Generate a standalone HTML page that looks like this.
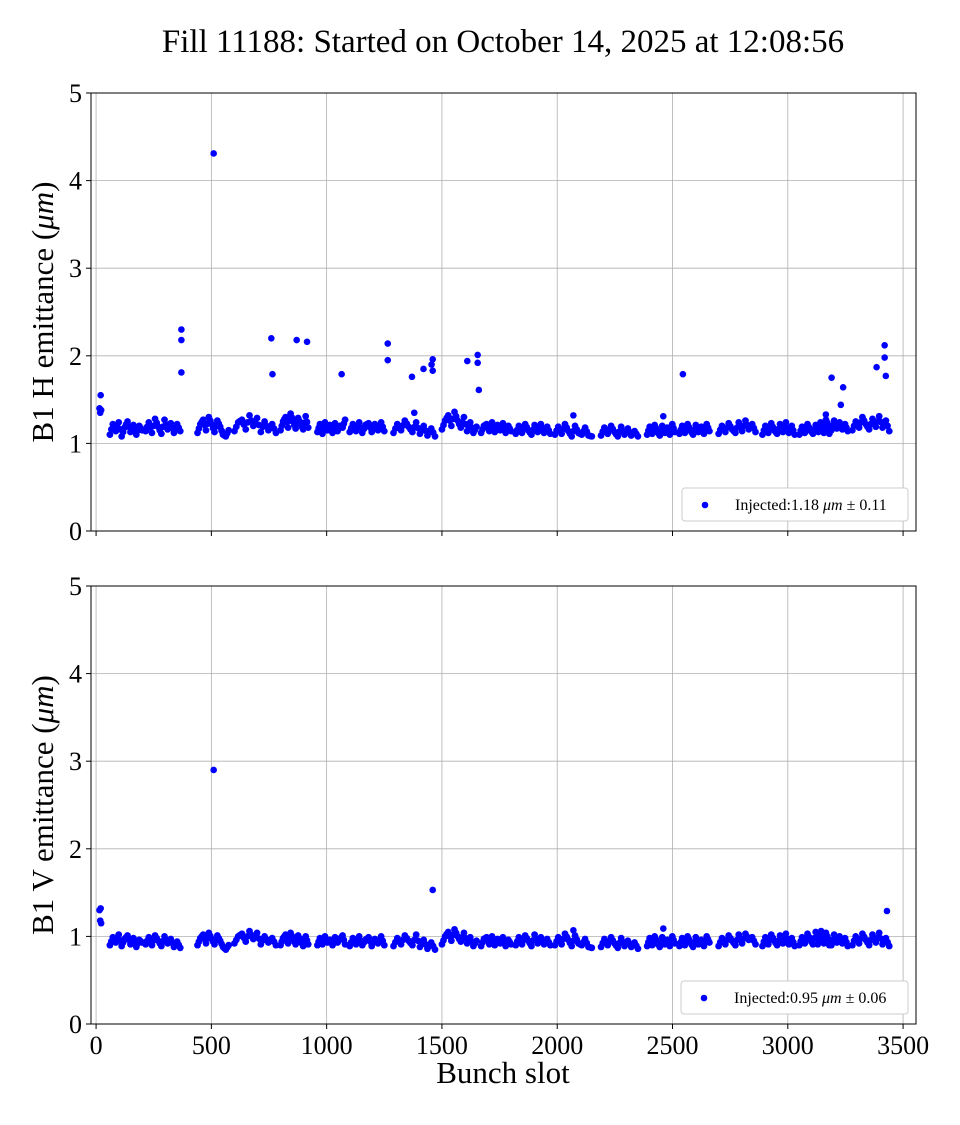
<!DOCTYPE html>
<html><head><meta charset="utf-8"><style>
body{margin:0;background:#fff;}
svg text{font-family:"Liberation Serif",serif;fill:#000;}
</style></head><body>
<svg id="chart" width="960" height="1120" xmlns="http://www.w3.org/2000/svg">
<rect width="960" height="1120" fill="#fff"/>
<text x="503" y="52" font-size="33" text-anchor="middle">Fill 11188: Started on October 14, 2025 at 12:08:56</text>
</svg>
<script>
const trainStarts=[60,215,440,600,800,960,1100,1290,1500,1670,1820,1990,2190,2390,2530,2700,2890,3050,3130,3280];
const trainEnds=[200,365,575,780,920,1080,1250,1470,1650,1800,1970,2150,2350,2510,2660,2860,3030,3180,3260,3440];
const hTrainValues=[
[1.1,1.22,1.14,1.24,1.08,1.18,1.25,1.13,1.21,1.1,1.2,1.15],
[1.14,1.24,1.12,1.28,1.19,1.11,1.27,1.16,1.23,1.12,1.22,1.14],
[1.12,1.22,1.27,1.15,1.3,1.22,1.13,1.26,1.19,1.1,1.08,1.15],
[1.14,1.24,1.27,1.16,1.32,1.2,1.29,1.13,1.25,1.15,1.22,1.12],
[1.15,1.25,1.3,1.18,1.34,1.25,1.17,1.29,1.22,1.16,1.31,1.18],
[1.13,1.22,1.11,1.24,1.15,1.21,1.12,1.23,1.14,1.2,1.18,1.27],
[1.13,1.22,1.14,1.24,1.12,1.21,1.23,1.13,1.22,1.15,1.24,1.14],
[1.12,1.22,1.15,1.26,1.19,1.13,1.24,1.11,1.2,1.09,1.17,1.08],
[1.16,1.26,1.32,1.2,1.36,1.26,1.18,1.3,1.14,1.24,1.12,1.19],
[1.12,1.2,1.22,1.14,1.24,1.13,1.21,1.15,1.23,1.12,1.2,1.14],
[1.11,1.2,1.12,1.22,1.15,1.1,1.21,1.13,1.22,1.12,1.19,1.11],
[1.1,1.19,1.11,1.22,1.14,1.08,1.2,1.12,1.1,1.18,1.09,1.08],
[1.09,1.18,1.11,1.2,1.13,1.08,1.19,1.1,1.17,1.09,1.14,1.08],
[1.1,1.19,1.11,1.21,1.14,1.09,1.2,1.12,1.18,1.1,1.22,1.13],
[1.11,1.2,1.12,1.22,1.15,1.1,1.21,1.13,1.19,1.11,1.22,1.14],
[1.11,1.2,1.13,1.23,1.16,1.12,1.24,1.14,1.26,1.16,1.22,1.13],
[1.1,1.2,1.12,1.23,1.15,1.11,1.22,1.13,1.24,1.12,1.2,1.1],
[1.1,1.19,1.12,1.22,1.15,1.11,1.21,1.13,1.23,1.12,1.2,1.11],
[1.14,1.24,1.17,1.27,1.2,1.15,1.26,1.17,1.24,1.16,1.22,1.14],
[1.15,1.25,1.18,1.3,1.22,1.16,1.28,1.19,1.31,1.18,1.26,1.14]];
const vTrainValues=[
[0.9,0.99,0.93,1.02,0.89,0.97,1.01,0.91,0.98,0.88,0.96,0.93],
[0.91,0.99,0.9,1.01,0.95,0.89,1.0,0.92,0.97,0.88,0.94,0.87],
[0.9,0.98,1.02,0.92,1.04,0.97,0.91,1.01,0.95,0.88,0.85,0.9],
[0.92,1.0,1.03,0.94,1.06,0.97,1.04,0.91,1.0,0.93,0.98,0.9],
[0.9,0.98,1.02,0.92,1.04,0.97,0.91,1.01,0.95,0.89,1.0,0.91],
[0.9,0.98,0.91,1.0,0.93,0.96,0.9,0.99,0.93,0.97,1.01,0.91],
[0.89,0.98,0.91,1.0,0.9,0.96,0.99,0.89,0.97,0.92,1.0,0.9],
[0.89,0.98,0.91,1.01,0.95,0.9,1.02,0.88,0.96,0.86,0.93,0.85],
[0.91,1.0,1.05,0.95,1.08,1.0,0.94,1.04,0.92,0.99,0.89,0.95],
[0.89,0.97,0.99,0.91,1.0,0.9,0.97,0.92,0.99,0.89,0.96,0.91],
[0.9,0.99,0.91,1.01,0.95,0.89,1.02,0.92,0.99,0.91,0.97,0.9],
[0.9,0.99,0.91,1.03,0.96,0.89,1.01,0.92,0.9,0.97,0.88,0.87],
[0.88,0.97,0.9,0.99,0.92,0.87,0.98,0.89,0.95,0.88,0.93,0.86],
[0.89,0.98,0.9,1.0,0.93,0.88,0.99,0.91,0.96,0.89,1.0,0.92],
[0.89,0.98,0.9,1.0,0.93,0.88,0.99,0.91,0.96,0.89,1.0,0.93],
[0.89,0.98,0.91,1.01,0.95,0.9,1.02,0.92,1.03,0.96,0.99,0.91],
[0.89,0.99,0.91,1.02,0.95,0.9,1.01,0.92,1.03,0.91,0.98,0.89],
[0.9,0.99,0.92,1.03,0.96,0.91,1.05,0.93,1.06,0.92,0.99,0.9],
[0.91,1.0,0.93,1.04,0.96,0.9,1.02,0.93,1.0,0.92,0.98,0.89],
[0.9,1.0,0.92,1.03,0.96,0.9,1.02,0.93,1.04,0.91,0.98,0.89]];
const hOutlierSlots=[20,15,18,22,370,370,370,510,760,765,870,915,1065,1265,1265,1370,1380,1420,1455,1460,1460,1610,1655,1655,1660,2545,3165,3190,3230,3240,3385,3420,3420,3425,2070,2460];
const hOutlierValues=[1.55,1.4,1.35,1.38,2.3,2.18,1.81,4.31,2.2,1.79,2.18,2.16,1.79,2.14,1.95,1.76,1.35,1.85,1.9,1.96,1.83,1.94,2.01,1.92,1.61,1.79,1.33,1.75,1.44,1.64,1.87,2.12,1.98,1.77,1.32,1.31];
const vOutlierSlots=[15,20,18,22,510,1460,3430,2460,2070];
const vOutlierValues=[1.3,1.32,1.18,1.15,2.9,1.53,1.29,1.09,1.07];
const xTicks=[0,500,1000,1500,2000,2500,3000,3500];
const yTicks=[0,1,2,3,4,5];

const NS="http://www.w3.org/2000/svg";
const svg=document.getElementById('chart');
const L=91,R=916,xMin=-22,xMax=3556;
const xs=v=>L+(v-xMin)/(xMax-xMin)*(R-L);
function mk(t,a,p){const e=document.createElementNS(NS,t);for(const k in a)e.setAttribute(k,a[k]);(p||svg).appendChild(e);return e;}
function panel(top,bottom,name,label,tv,os,ov,legend,showX){
  const ys=v=>bottom-v/5*(bottom-top);
  const g=mk('g',{});
  
  
  xTicks.forEach(t=>{const x=xs(t);
    const gl=mk('line',{x1:x,x2:x,y1:top,y2:bottom,stroke:'#b0b0b0','stroke-width':0.8},g);
    
    mk('line',{x1:x,x2:x,y1:bottom,y2:bottom+5,stroke:'#000','stroke-width':1},g);
    if(showX){const tx=mk('text',{x:x,y:bottom+30,'font-size':26,'text-anchor':'middle'},g);tx.textContent=t;
      }
  });
  yTicks.forEach(t=>{const y=ys(t);
    const gl=mk('line',{x1:L,x2:R,y1:y,y2:y,stroke:'#b0b0b0','stroke-width':0.8},g);
    
    mk('line',{x1:L-5,x2:L,y1:y,y2:y,stroke:'#000','stroke-width':1},g);
    const tx=mk('text',{x:L-9,y:y+9,'font-size':26,'text-anchor':'end'},g);tx.textContent=t;
    
  });
  const pts=mk('g',{fill:'#0000ff'},g);
  
  tv.forEach((vals,i)=>{const s=trainStarts[i],e=trainEnds[i];
    vals.forEach((v,j)=>{const slot=s+(e-s)*j/(vals.length-1);
      const c=mk('circle',{cx:xs(slot),cy:ys(v),r:3.4},pts);
      });
    vals.forEach((v,j)=>{if(j==vals.length-1)return;const slot=s+(e-s)*(j+0.5)/(vals.length-1);
      const v2=(v+vals[j+1])/2;
      const c=mk('circle',{cx:xs(slot),cy:ys(v2),r:3.4},pts);
      });
  });
  os.forEach((s,i)=>{const c=mk('circle',{cx:xs(s),cy:ys(ov[i]),r:3.3},pts);
    });
  const fr=mk('rect',{x:L,y:top,width:R-L,height:bottom-top,fill:'none',stroke:'#000','stroke-width':1},g);
  
  const yl=mk('text',{x:0,y:0,'font-size':31,'text-anchor':'middle',transform:`translate(53,${(top+bottom)/2}) rotate(-90)`},g);
  yl.innerHTML=label+' emittance (<tspan font-style="italic">μm</tspan>)';
  
  const lg=mk('g',{},g);
  
  mk('rect',{x:legend[0],y:bottom-43,width:legend[1],height:33,rx:3,fill:'#fff',stroke:'#ccc'},lg);
  mk('circle',{cx:legend[0]+23,cy:bottom-26,r:3.3,fill:'#0000ff'},lg);
  const lt=mk('text',{x:legend[0]+53,y:bottom-21,'font-size':16},lg);
  lt.innerHTML=legend[2];
  
}
panel(93,531,'b1-h','B1 H',hTrainValues,hOutlierSlots,hOutlierValues,[682,226,'Injected:1.18 <tspan font-style="italic">μm</tspan> ± 0.11'],false);
panel(586,1024,'b1-v','B1 V',vTrainValues,vOutlierSlots,vOutlierValues,[681,227,'Injected:0.95 <tspan font-style="italic">μm</tspan> ± 0.06'],true);
const xl=mk('text',{x:503,y:1083,'font-size':31,'text-anchor':'middle'});
xl.textContent='Bunch slot';


</script>
</body></html>
